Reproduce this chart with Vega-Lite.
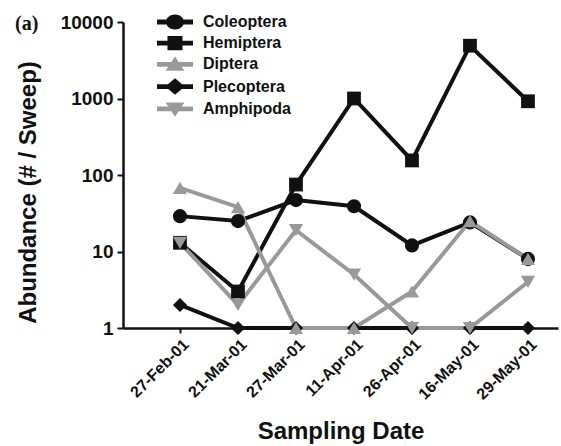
{
  "$schema": "https://vega.github.io/schema/vega-lite/v6.json",
  "width": 435,
  "height": 306,
  "autosize": {"type": "none"},
  "padding": {"left": 123, "top": 22, "right": 3, "bottom": 118},
  "background": "white",
  "config": {
    "view": {"stroke": null},
    "font": "Liberation Sans",
    "axis": {"grid": false, "domainColor": "#111", "domainWidth": 2.5, "tickColor": "#111", "tickWidth": 2, "labelFont": "Liberation Sans", "labelFontWeight": "bold", "labelColor": "#111", "titleFont": "Liberation Sans", "titleFontWeight": "bold", "titleColor": "#111"},
    "legend": {
      "orient": "none", "legendX": 44, "legendY": -8, "title": null,
      "labelFontSize": 16, "labelFontWeight": "bold", "labelColor": "#111", "labelFont": "Liberation Sans",
      "symbolSize": 225, "labelOffset": 20, "rowPadding": 5.2, "symbolStrokeWidth": 0, "symbolOpacity": 1
    }
  },
  "title": {"text": "(a)", "font": "Liberation Serif", "fontSize": 20, "fontWeight": "bold", "color": "#111", "anchor": "start", "frame": "group", "orient": "top", "offset": 0, "dx": -108, "dy": 37, "baseline": "alphabetic"},
  "data": {"values": [
    {"date": "27-Feb-01", "taxon": "Coleoptera", "value": 29},
    {"date": "21-Mar-01", "taxon": "Coleoptera", "value": 25},
    {"date": "27-Mar-01", "taxon": "Coleoptera", "value": 47},
    {"date": "11-Apr-01", "taxon": "Coleoptera", "value": 39},
    {"date": "26-Apr-01", "taxon": "Coleoptera", "value": 12},
    {"date": "16-May-01", "taxon": "Coleoptera", "value": 24},
    {"date": "29-May-01", "taxon": "Coleoptera", "value": 8},
    {"date": "27-Feb-01", "taxon": "Hemiptera", "value": 13},
    {"date": "21-Mar-01", "taxon": "Hemiptera", "value": 3},
    {"date": "27-Mar-01", "taxon": "Hemiptera", "value": 75},
    {"date": "11-Apr-01", "taxon": "Hemiptera", "value": 1000},
    {"date": "26-Apr-01", "taxon": "Hemiptera", "value": 155},
    {"date": "16-May-01", "taxon": "Hemiptera", "value": 4900},
    {"date": "29-May-01", "taxon": "Hemiptera", "value": 920},
    {"date": "27-Feb-01", "taxon": "Plecoptera", "value": 2},
    {"date": "21-Mar-01", "taxon": "Plecoptera", "value": 1},
    {"date": "27-Mar-01", "taxon": "Plecoptera", "value": 1},
    {"date": "11-Apr-01", "taxon": "Plecoptera", "value": 1},
    {"date": "26-Apr-01", "taxon": "Plecoptera", "value": 1},
    {"date": "16-May-01", "taxon": "Plecoptera", "value": 1},
    {"date": "29-May-01", "taxon": "Plecoptera", "value": 1},
    {"date": "27-Feb-01", "taxon": "Diptera", "value": 68},
    {"date": "21-Mar-01", "taxon": "Diptera", "value": 38},
    {"date": "27-Mar-01", "taxon": "Diptera", "value": 1},
    {"date": "11-Apr-01", "taxon": "Diptera", "value": 1},
    {"date": "26-Apr-01", "taxon": "Diptera", "value": 3},
    {"date": "16-May-01", "taxon": "Diptera", "value": 25},
    {"date": "29-May-01", "taxon": "Diptera", "value": 8},
    {"date": "27-Feb-01", "taxon": "Amphipoda", "value": 13},
    {"date": "21-Mar-01", "taxon": "Amphipoda", "value": 2},
    {"date": "27-Mar-01", "taxon": "Amphipoda", "value": 19},
    {"date": "11-Apr-01", "taxon": "Amphipoda", "value": 5},
    {"date": "26-Apr-01", "taxon": "Amphipoda", "value": 1},
    {"date": "16-May-01", "taxon": "Amphipoda", "value": 1},
    {"date": "29-May-01", "taxon": "Amphipoda", "value": 4}
  ]},
  "encoding": {
    "x": {
      "field": "date", "type": "ordinal",
      "sort": ["27-Feb-01", "21-Mar-01", "27-Mar-01", "11-Apr-01", "26-Apr-01", "16-May-01", "29-May-01"],
      "scale": {"type": "point", "padding": 0.75, "align": 0.655},
      "axis": {"title": "Sampling Date", "labelAngle": -45, "labelFontSize": 16, "labelPadding": 3, "tickSize": 5, "titleFontSize": 24, "titlePadding": 17}
    },
    "y": {
      "field": "value", "type": "quantitative",
      "scale": {"type": "log", "domain": [1, 10000], "nice": false},
      "axis": {"title": "Abundance (# / Sweep)", "values": [1, 10, 100, 1000, 10000], "format": "d", "labelFontSize": 19, "labelPadding": 4, "tickSize": 6, "titleFontSize": 24, "titlePadding": 20, "titleY": 170}
    },
    "color": {
      "field": "taxon", "type": "nominal",
      "scale": {"domain": ["Coleoptera", "Hemiptera", "Diptera", "Plecoptera", "Amphipoda"], "range": ["#111111", "#111111", "#999999", "#111111", "#999999"]}
    }
  },
  "layer": [
    {"mark": {"type": "line", "strokeWidth": 4}},
    {"transform": [{"filter": "datum.taxon === 'Coleoptera'"}], "mark": {"type": "point", "shape": "circle", "filled": true, "opacity": 1, "size": 200}},
    {"transform": [{"filter": "datum.taxon === 'Hemiptera'"}], "mark": {"type": "point", "shape": "square", "filled": true, "opacity": 1, "size": 190}},
    {"transform": [{"filter": "datum.taxon === 'Plecoptera'"}], "mark": {"type": "point", "shape": "diamond", "filled": true, "opacity": 1, "size": 200}},
    {"transform": [{"filter": "datum.taxon === 'Diptera'"}], "mark": {"type": "point", "shape": "triangle-up", "filled": true, "opacity": 1, "size": 200}},
    {"transform": [{"filter": "datum.taxon === 'Amphipoda'"}], "mark": {"type": "point", "shape": "triangle-down", "filled": true, "opacity": 1, "size": 200}},
    {
      "transform": [{"filter": "false"}],
      "mark": {"type": "point", "filled": true, "opacity": 1},
      "encoding": {
        "shape": {
          "field": "taxon", "type": "nominal",
          "scale": {
            "domain": ["Coleoptera", "Hemiptera", "Diptera", "Plecoptera", "Amphipoda"],
            "range": [
              "M-2.4,-0.32 L2.4,-0.32 L2.4,0.32 L-2.4,0.32 Z M1.2,0 A1.2,1 0 1,1 -1.2,0 A1.2,1 0 1,1 1.2,0 Z",
              "M-2.4,-0.32 L2.4,-0.32 L2.4,0.32 L-2.4,0.32 Z M-1,-0.95 L1,-0.95 L1,0.95 L-1,0.95 Z",
              "M-2.4,-0.32 L2.4,-0.32 L2.4,0.32 L-2.4,0.32 Z M0,-1.05 L1.25,0.85 L-1.25,0.85 Z",
              "M-2.4,-0.32 L2.4,-0.32 L2.4,0.32 L-2.4,0.32 Z M0,-1.1 L1.3,0 L0,1.1 L-1.3,0 Z",
              "M-2.4,-0.32 L2.4,-0.32 L2.4,0.32 L-2.4,0.32 Z M-1.25,-0.85 L1.25,-0.85 L0,1.05 Z"
            ]
          }
        }
      }
    }
  ]
}
